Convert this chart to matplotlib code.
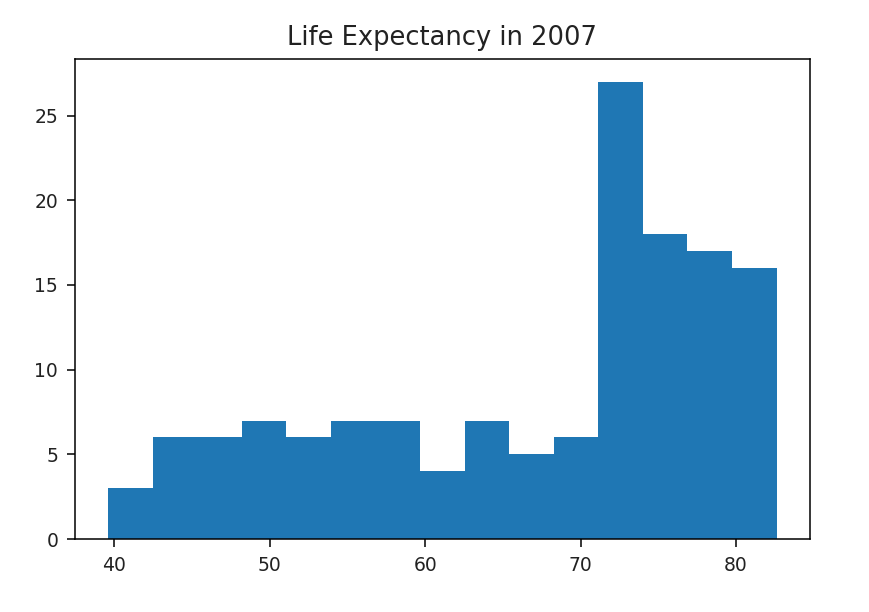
import numpy as np
import matplotlib
matplotlib.use("Agg")
import matplotlib.pyplot as plt

# Histogram of 2007 life expectancy (15 bins)
life_min = 39.613
life_max = 82.603
counts = [3, 6, 6, 7, 6, 7, 7, 4, 7, 5, 6, 27, 18, 17, 16]
title = "Life Expectancy in 2007"

edges = np.linspace(life_min, life_max, len(counts) + 1)
centers = (edges[:-1] + edges[1:]) / 2

fig = plt.figure(figsize=(8.7, 6.12), dpi=100)
ax = fig.add_axes([0.086, 0.119, 0.845, 0.785])
ax.hist(centers, bins=edges, weights=counts, color="#1f77b4")
ax.set_title(title, fontsize=18.5, pad=10, color="#222222")
ax.tick_params(labelsize=13.5, length=6, width=1.1, pad=6, labelcolor="#222222")
for s in ax.spines.values():
    s.set_linewidth(1.1)
ax.set_yticks([0, 5, 10, 15, 20, 25])
ax.set_xticks([40, 50, 60, 70, 80])
fig.savefig("out.png", dpi=100)
